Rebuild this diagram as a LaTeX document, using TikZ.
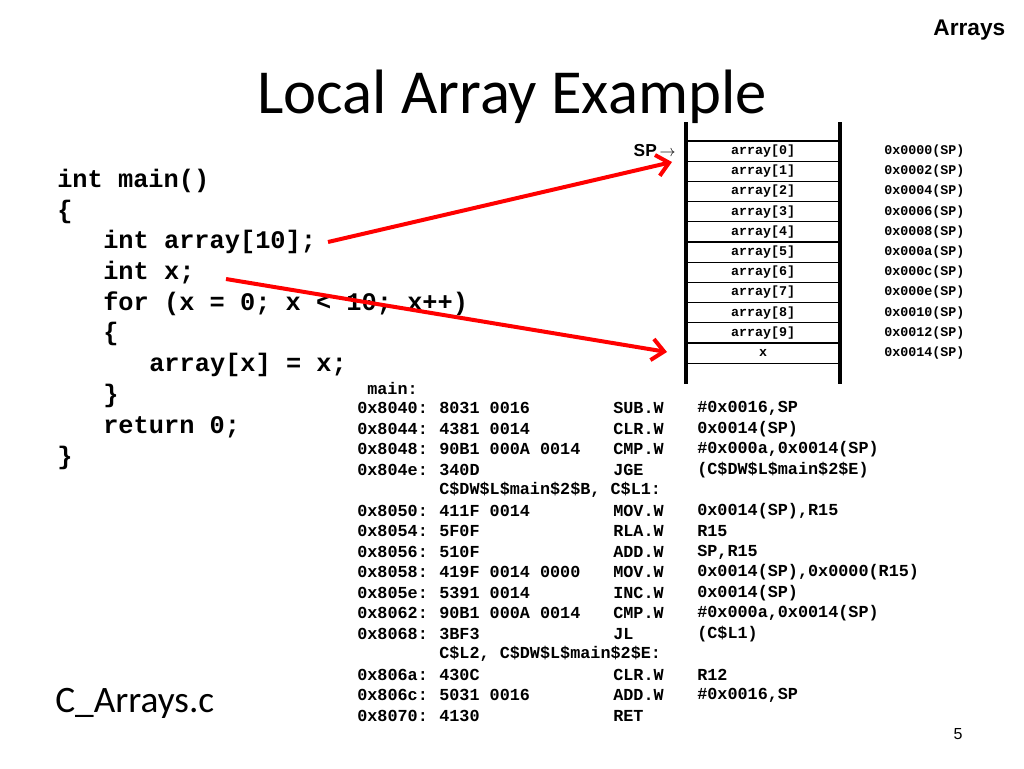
\documentclass[tikz,border=0pt]{standalone}
\usepackage{fontspec}
\setmainfont{Carlito}
\newfontfamily\cmono{Liberation Mono}
\newfontfamily\arial{Liberation Sans}
\begin{document}
\begin{tikzpicture}[x=0.75pt,y=-0.75pt,
  code/.style={anchor=west,inner sep=0pt,font=\cmono\bfseries\fontsize{19}{19}\selectfont},
  asm/.style={anchor=west,inner sep=0pt,font=\cmono\bfseries\fontsize{12.6}{13}\selectfont},
  cell/.style={inner sep=0pt,font=\cmono\bfseries\fontsize{10}{10}\selectfont},
  addr/.style={anchor=west,inner sep=0pt,font=\cmono\bfseries\fontsize{10}{10}\selectfont},
  redarrow/.style={draw=red,line width=3pt,-{Straight Barb[length=9pt,width=16pt]}}]
\useasboundingbox (0,0) rectangle (1024,768);
\usetikzlibrary{arrows.meta}
\node[anchor=east,font=\arial\bfseries\fontsize{17}{17}\selectfont] (hdr) at (1010,30) {Arrays};
\node[font=\fontsize{47}{47}\selectfont] (title) at (512,97) {Local Array Example};
\node[anchor=west,font=\fontsize{28}{28}\selectfont,inner sep=0pt] (file) at (55,703) {C\_Arrays.c};
\node[font=\arial\fontsize{12}{12}\selectfont] (pg) at (958,734) {5};
% C code
\node[code] (c1) at (57,181) {int main()};
\node[code] (c2) at (57,212) {\{};
\node[code] (c3) at (103,242) {int array[10];};
\node[code] (c4) at (103,273) {int x;};
\node[code] (c5) at (103,304) {for (x = 0; x < 10; x++)};
\node[code] (c6) at (103,334) {\{};
\node[code] (c7) at (149,365) {array[x] = x;};
\node[code] (c8) at (103,396) {\}};
\node[code] (c9) at (103,427) {return 0;};
\node[code] (c10) at (57,458) {\}};
% stack table
\draw[line width=2.5pt] (686,122) -- (686,384);
\draw[line width=2.5pt] (840,122) -- (840,384);
\foreach \i in {0,...,11} \draw[line width=1pt] (686,{141+20.2*\i}) -- (840,{141+20.2*\i});
\foreach \i/\a in {0/0000,1/0002,2/0004,3/0006,4/0008,5/000a,6/000c,7/000e,8/0010,9/0012}{
  \node[cell] (m\i) at (763,{151+20.2*\i}) {array[\i]};
  \node[addr] (a\i) at (884,{151+20.2*\i}) {0x\a(SP)};
}
\node[cell] (mx) at (763,353) {x};
\node[addr] (ax) at (884,353) {0x0014(SP)};
\node[anchor=east,font=\arial\bfseries\fontsize{13}{13}\selectfont,inner sep=0pt] (sp) at (676,151) {SP\,$\rightarrow$};
\coordinate (t0) at (672,162);
\coordinate (tx) at (667,352);
\coordinate (s0) at (328,242);
\coordinate (sx) at (226,279);
\draw[redarrow] (s0) -- (t0);
\draw[redarrow] (sx) -- (tx);
% assembly
\node[asm] (mainlbl) at (367,388) {main:};
\foreach \y/\ad/\hx/\op/\ar [count=\k] in {
 408/0x8040:/8031 0016/SUB.W/\#0x0016\hbox{,}SP,
 429/0x8044:/4381 0014/CLR.W/0x0014(SP),
 449/0x8048:/90B1 000A 0014/CMP.W/\#0x000a\hbox{,}0x0014(SP),
 470/0x804e:/340D/JGE/(C\$DW\$L\$main\$2\$E),
 511/0x8050:/411F 0014/MOV.W/0x0014(SP)\hbox{,}R15,
 531/0x8054:/5F0F/RLA.W/R15,
 552/0x8056:/510F/ADD.W/SP\hbox{,}R15,
 572/0x8058:/419F 0014 0000/MOV.W/0x0014(SP)\hbox{,}0x0000(R15),
 593/0x805e:/5391 0014/INC.W/0x0014(SP),
 613/0x8062:/90B1 000A 0014/CMP.W/\#0x000a\hbox{,}0x0014(SP),
 634/0x8068:/3BF3/JL/(C\$L1),
 675/0x806a:/430C/CLR.W/R12,
 695/0x806c:/5031 0016/ADD.W/\#0x0016\hbox{,}SP,
 716/0x8070:/4130/RET/{}}{
  \node[asm] (ad\k) at (357,\y) {\ad};
  \node[asm] (hx\k) at (439,\y) {\hx};
  \node[asm] (op\k) at (613,\y) {\op};
  \node[asm] (ar\k) at (697,\y) {\ar};
}
\node[asm] (lbl1) at (439,490) {C\$DW\$L\$main\$2\$B, C\$L1:};
\node[asm] (lbl2) at (439,654) {C\$L2, C\$DW\$L\$main\$2\$E:};
\end{tikzpicture}
\end{document}
